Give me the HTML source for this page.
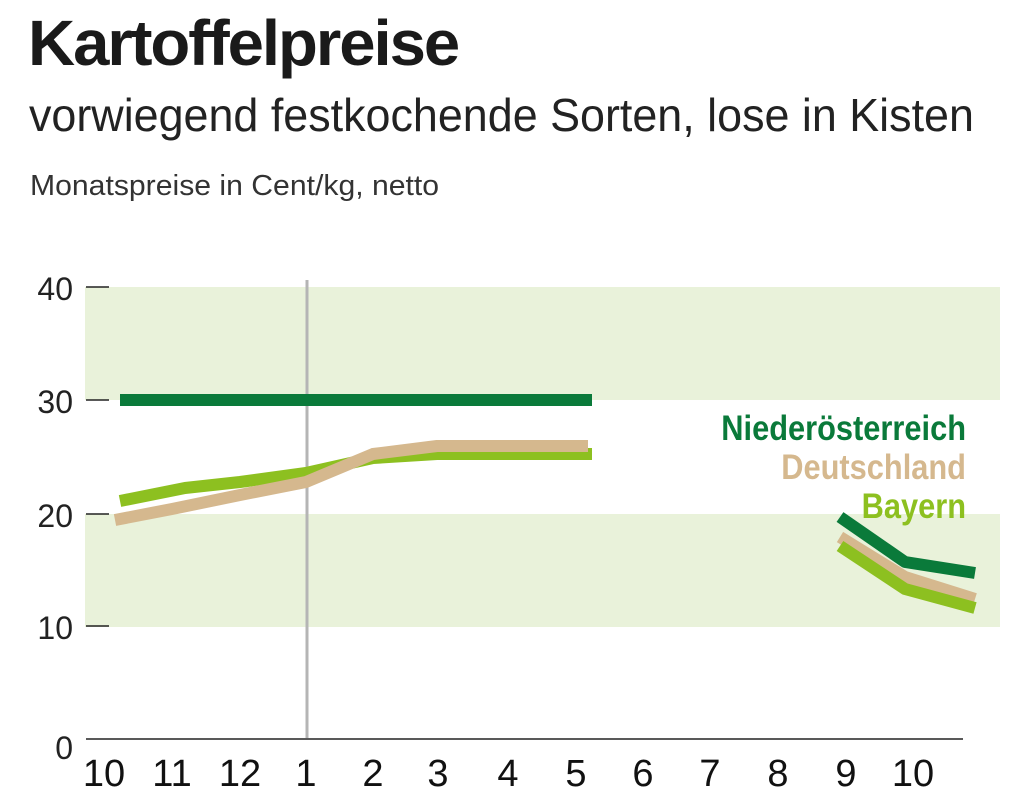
<!DOCTYPE html>
<html><head><meta charset="utf-8"><style>
body{margin:0;width:1023px;height:804px;background:#fff;overflow:hidden;font-family:"Liberation Sans",sans-serif;color:#1a1a1a}
.t{position:absolute;white-space:nowrap;transform-origin:0 0}
</style></head><body>
<div class="t" style="left:28px;top:6px;font-size:64px;font-weight:bold;letter-spacing:-2px;transform:scaleX(1.02)">Kartoffelpreise</div>
<div class="t" style="left:29px;top:88px;font-size:46px;transform:scaleX(0.975);color:#222">vorwiegend festkochende Sorten, lose in Kisten</div>
<div class="t" style="left:30px;top:170px;font-size:29px;transform:scaleX(1.04);color:#333">Monatspreise in Cent/kg, netto</div>
<svg width="1023" height="804" style="position:absolute;left:0;top:0">
<rect x="85" y="287" width="915" height="113" fill="#e9f2da"/>
<rect x="85" y="514" width="915" height="113" fill="#e9f2da"/>
<g stroke="#222" stroke-width="1.5">
<line x1="86" y1="287" x2="109" y2="287"/><line x1="86" y1="400" x2="109" y2="400"/>
<line x1="86" y1="514" x2="109" y2="514"/><line x1="86" y1="626" x2="109" y2="626"/>
<line x1="86" y1="739" x2="963" y2="739"/></g>
<line x1="307" y1="280" x2="307" y2="738" stroke="#b5b5b5" stroke-width="3"/>
<g font-size="32" fill="#222" text-anchor="end">
<text x="73" y="300">40</text><text x="73" y="413">30</text><text x="73" y="527">20</text><text x="73" y="639">10</text><text x="73" y="759">0</text></g>
<g font-size="38" fill="#111" text-anchor="middle">
<text x="104" y="786">10</text><text x="172" y="786">11</text><text x="240" y="786">12</text><text x="306" y="786">1</text><text x="373" y="786">2</text><text x="438" y="786">3</text><text x="508" y="786">4</text><text x="576" y="786">5</text><text x="643" y="786">6</text><text x="710" y="786">7</text><text x="778" y="786">8</text><text x="846" y="786">9</text><text x="913" y="786">10</text></g>
<g fill="none" stroke-width="12" stroke-linejoin="round">
<polyline points="120,400 592,400" stroke="#0a7a3a"/>
<polyline points="120,501 185,488 240,482 306,473 373,458 437,454 592,454" stroke="#8dc020"/>
<polyline points="115,520 172,509 240,495 306,482 373,454 437,446 588,446" stroke="#d5b88e"/>
<polyline points="840,517 905,562 975,573" stroke="#0a7a3a"/>
<polyline points="840,537 905,577 975,599" stroke="#d5b88e"/>
<polyline points="840,546 905,589 975,608" stroke="#8dc020"/>
</g>
<g font-size="35" font-weight="bold" text-anchor="end" transform="translate(966,0) scale(0.88,1)">
<text x="0" y="440" fill="#0a7a3a">Niederösterreich</text>
<text x="0" y="479" fill="#d5b88e">Deutschland</text>
<text x="0" y="518" fill="#8dc020">Bayern</text></g>
</svg>
</body></html>
